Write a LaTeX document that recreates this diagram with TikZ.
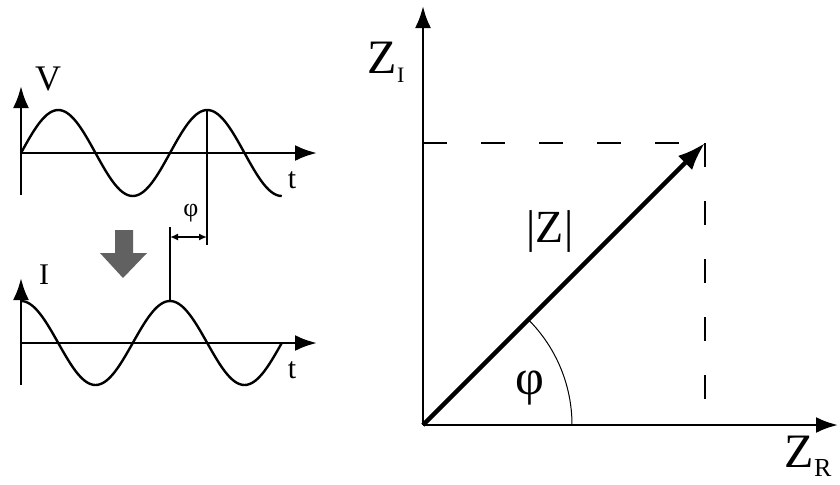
\documentclass[tikz,border=0pt]{standalone}
\usepackage{fontspec}
\setmainfont{Liberation Serif}
\usepackage{xcolor}
\usepackage{tikz}
\usetikzlibrary{arrows.meta, positioning}

\definecolor{arrowgray}{gray}{0.38}

\begin{document}
\begin{tikzpicture}[x=0.5pt, y=0.5pt, >={Latex[length=11pt,width=8pt]},
    axis/.style={line width=1.4pt, ->},
    wave/.style={line width=1.2pt},
    guide/.style={line width=0.8pt},
    dashline/.style={line width=1.1pt, dash pattern=on 12pt off 17pt},
    lbl/.style={inner sep=0pt, font=\fontsize{18}{20}\selectfont}]

    \useasboundingbox (0,0) rectangle (840,484);

    % --- 電圧波形 V ---
    \coordinate (V0) at (21,331);
    \coordinate (Vbot) at (21,289);
    \coordinate (Vtop) at (21,398);
    \coordinate (Vend) at (317,331);
    \draw[axis] (Vbot) -- (Vtop);
    \draw[axis] (V0) -- (Vend);
    \draw[wave] plot[domain=0:630, samples=120] ({21+\x/360*149},{331+43*sin(\x)});
    \node[lbl] (labV) at (48,405) {V};
    \node[lbl, font=\fontsize{15}{17}\selectfont] (labtV) at (292,304) {t};

    % --- 電流波形 I ---
    \coordinate (I0) at (21,141);
    \coordinate (Ibot) at (21,99);
    \coordinate (Itop) at (21,206);
    \coordinate (Iend) at (317,141);
    \draw[axis] (Ibot) -- (Itop);
    \draw[axis] (I0) -- (Iend);
    \draw[wave] plot[domain=0:630, samples=120] ({21+\x/360*149},{141+42*cos(\x)});
    \node[lbl, font=\fontsize{15}{17}\selectfont] (labI) at (44,209) {I};
    \node[lbl, font=\fontsize{15}{17}\selectfont] (labtI) at (292,114) {t};

    % --- 位相差 φ ---
    \coordinate (Vpeak) at (207,374);
    \coordinate (Vmark) at (207,239);
    \coordinate (Ipeak) at (170,183);
    \coordinate (Imark) at (170,257);
    \draw[guide] (Vpeak) -- (Vmark);
    \draw[guide] (Ipeak) -- (Imark);
    \coordinate (phiL) at (170,247);
    \coordinate (phiR) at (207,247);
    \draw[guide, {Latex[length=4pt,width=3.5pt]}-{Latex[length=4pt,width=3.5pt]}] (phiL) -- (phiR);
    \node[lbl, font=\fontsize{13}{15}\selectfont] (labphiS) at (191,271) {φ};

    % --- 灰色の矢印 ---
    \fill[arrowgray] (115,254) -- (133,254) -- (133,231) -- (147,231)
        -- (123,206) -- (100,231) -- (115,231) -- cycle;

    % --- インピーダンス平面 ---
    \coordinate (O) at (423,59);
    \coordinate (ZItip) at (423,478);
    \coordinate (ZRtip) at (838,59);
    \coordinate (P) at (705,341);
    \coordinate (Py) at (423,341);
    \coordinate (Px) at (705,77);
    \draw[axis] (O) -- (ZItip);
    \draw[axis] (O) -- (ZRtip);
    \draw[dashline] (Py) -- (P);
    \draw[dashline] (P) -- (Px);
    \draw[line width=2.2pt, ->, >={Latex[length=14pt,width=10pt]}] (O) -- (P);
    \draw[line width=0.5pt] (572,59) arc (0:45:149);

    \node[lbl, font=\fontsize{24}{26}\selectfont] (labZI) at (386,422)
        {Z\raisebox{-0.4ex}{\fontsize{11}{12}\selectfont I}};
    \node[lbl, font=\fontsize{24}{26}\selectfont] (labZR) at (808,28)
        {Z\raisebox{-0.4ex}{\fontsize{13}{14}\selectfont R}};
    \node[lbl, font=\fontsize{23}{25}\selectfont] (labZ) at (550,253) {|Z|};
    \node[lbl, font=\fontsize{25}{27}\selectfont] (labphi) at (530,96) {φ};

\end{tikzpicture}
\end{document}
